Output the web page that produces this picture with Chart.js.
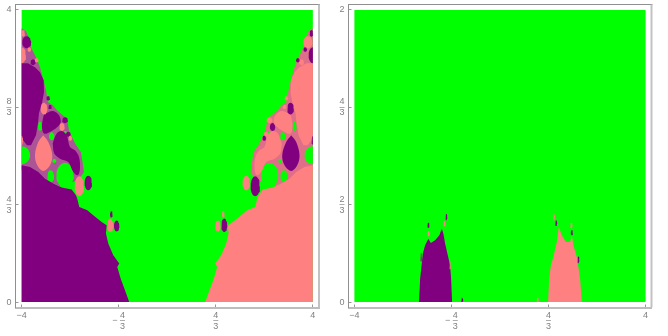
<!DOCTYPE html>
<html>
<head>
<meta charset="utf-8">
<style>
html,body{margin:0;padding:0;background:#fff;width:668px;height:336px;overflow:hidden}
canvas{position:absolute;top:0}
#a{left:0}
#b{left:334px}
</style>
<script src="https://cdn.jsdelivr.net/npm/chart.js@4"></script>
</head>
<body>
<canvas id="a" width="334" height="336"></canvas>
<canvas id="b" width="334" height="336"></canvas>
<script>
// ---- tick values and labels
const xTickValues = [-4, -4/3, 4/3, 4];
const xTickLabels = ['−4', ['   4', '− –', '   3'], ['4', '–', '3'], '4'];
const yTickValuesA = [0, 4/3, 8/3, 4];
const yTickLabelsA = ['0', ['4', '–', '3'], ['8', '–', '3'], '4'];
const yTickValuesB = [0, 2/3, 4/3, 2];
const yTickLabelsB = ['0', ['2', '–', '3'], ['4', '–', '3'], '2'];

// ---- region colours
const GREEN = '#00ff00', PURPLE = '#800080', SALMON = '#ff8080';
const DUST_L = '#ab5596', DUST_R = '#df6f88';

// ---- panel A: full plot region
const plotA = [[-4,0],[4,0],[4,4],[-4,4]];

// ---- panel A, left side: main regions [x, y]
const dustL = [[-4,3.749],[-3.881,3.708],[-3.798,3.612],[-3.743,3.489],[-3.606,3.352],[-3.496,3.215],[-3.414,3.064],[-3.332,2.9],[-3.276,2.736],[-3.139,2.695],[-3.029,2.626],[-2.837,2.544],[-2.755,2.516],[-2.7,2.352],[-2.535,2.174],[-2.37,2.051],[-2.315,1.873],[-2.288,1.777],[-2.453,1.667],[-2.947,1.585],[-4,1.804]];
const lowerL = [[-4,0],[-4,1.873],[-3.771,1.849],[-3.543,1.781],[-3.359,1.69],[-3.131,1.622],[-2.9,1.567],[-2.626,1.54],[-2.508,1.462],[-2.472,1.416],[-2.417,1.301],[-2.197,1.256],[-2.032,1.188],[-1.802,1.096],[-1.664,1.051],[-1.684,0.937],[-1.62,0.8],[-1.483,0.64],[-1.318,0.526],[-1.373,0.479],[-1.28,0.321],[-1.162,0.16],[-1.044,0]];
const lobe1L = [[-4,3.27],[-3.826,3.27],[-3.634,3.215],[-3.496,3.147],[-3.395,3.037],[-3.386,2.873],[-3.441,2.722],[-3.524,2.585],[-3.551,2.448],[-3.606,2.284],[-3.743,2.147],[-3.853,2.147],[-3.963,2.215],[-4,2.284]];
const lobe2L = [[-3.386,2.571],[-3.139,2.616],[-2.974,2.558],[-2.928,2.462],[-3.029,2.393],[-3.222,2.329],[-3.386,2.307],[-3.441,2.393],[-3.414,2.516]];
const lobe3L = [[-3.147,2.17],[-3.038,2.307],[-2.9,2.342],[-2.763,2.284],[-2.672,2.123],[-2.535,2.078],[-2.425,1.986],[-2.398,1.827],[-2.461,1.736],[-2.582,1.781],[-2.719,1.918],[-2.947,1.964],[-3.104,2.033]];
const eggL = [[-3.406,2.284],[-3.268,2.192],[-3.158,2.01],[-3.222,1.873],[-3.406,1.795],[-3.57,1.873],[-3.634,2.01],[-3.543,2.192]];

// ---- panel A, right side: main regions [x, y]
const dustR = [[4,3.749],[3.881,3.708],[3.798,3.612],[3.743,3.489],[3.606,3.352],[3.496,3.215],[3.414,3.064],[3.332,2.9],[3.276,2.736],[3.139,2.695],[3.029,2.626],[2.837,2.544],[2.755,2.516],[2.7,2.352],[2.535,2.174],[2.37,2.051],[2.315,1.873],[2.288,1.777],[2.453,1.667],[2.947,1.585],[4,1.804]];
const lowerR = [[4,0],[4,1.873],[3.771,1.849],[3.543,1.781],[3.359,1.69],[3.131,1.622],[2.9,1.567],[2.626,1.54],[2.508,1.462],[2.472,1.416],[2.417,1.301],[2.197,1.256],[2.032,1.188],[1.802,1.096],[1.664,1.051],[1.684,0.937],[1.62,0.8],[1.483,0.64],[1.318,0.526],[1.373,0.479],[1.28,0.321],[1.162,0.16],[1.044,0]];
const lobe1R = [[4,3.27],[3.826,3.27],[3.634,3.215],[3.496,3.147],[3.395,3.037],[3.386,2.873],[3.441,2.722],[3.524,2.585],[3.551,2.448],[3.606,2.284],[3.743,2.147],[3.853,2.147],[3.963,2.215],[4,2.284]];
const lobe2R = [[3.386,2.571],[3.139,2.616],[2.974,2.558],[2.928,2.462],[3.029,2.393],[3.222,2.329],[3.386,2.307],[3.441,2.393],[3.414,2.516]];
const lobe3R = [[3.147,2.17],[3.038,2.307],[2.9,2.342],[2.763,2.284],[2.672,2.123],[2.535,2.078],[2.425,1.986],[2.398,1.827],[2.461,1.736],[2.582,1.781],[2.719,1.918],[2.947,1.964],[3.104,2.033]];
const eggR = [[3.406,2.284],[3.268,2.192],[3.158,2.01],[3.222,1.873],[3.406,1.795],[3.57,1.873],[3.634,2.01],[3.543,2.192]];

// ---- panel A: small round islands [cx, cy, rx, ry]
const islandsGreenL = [[-4,2.01,0.233,0.123],[-2.81,1.736,0.242,0.171],[-3.203,1.722,0.096,0.082],[-3.496,2.407,0.055,0.062],[-3.175,2.27,0.074,0.055],[-3.104,1.932,0.055,0.027],[-2.81,2.321,0.046,0.023]];
const islandsGreenR = [[4,2.01,0.233,0.123],[2.81,1.736,0.242,0.171],[3.203,1.722,0.096,0.082],[3.496,2.407,0.055,0.062],[3.175,2.27,0.074,0.055],[3.104,1.932,0.055,0.027],[2.81,2.321,0.046,0.023]];
const islandsPurpleL = [[-3.862,3.558,0.124,0.082],[-3.689,3.284,0.07,0.04],[-2.17,1.63,0.102,0.1],[-1.39,1.041,0.074,0.075],[-1.538,1.201,0.036,0.045],[-3.272,2.79,0.05,0.03],[-3.222,2.671,0.05,0.028],[-2.719,2.297,0.065,0.035],[-2.81,2.49,0.08,0.04]];
const islandsSalmonR = [[3.862,3.558,0.124,0.082],[3.689,3.284,0.07,0.04],[2.17,1.63,0.102,0.1],[1.39,1.041,0.074,0.075],[1.538,1.201,0.036,0.045],[3.272,2.79,0.05,0.03],[3.222,2.671,0.05,0.028],[2.719,2.297,0.065,0.035],[2.81,2.49,0.08,0.04]];
const islandsSalmonL = [[-4,3.379,0.118,0.11],[-3.386,2.649,0.091,0.082],[-2.892,2.397,0.074,0.055],[-2.417,1.585,0.129,0.137],[-1.566,1.051,0.082,0.092],[-3.79,3.458,0.05,0.03],[-3.587,3.311,0.05,0.03],[-3.96,3.68,0.05,0.045],[-4,2.215,0.04,0.06],[-2.664,2.243,0.05,0.035]];
const islandsPurpleR = [[4,3.379,0.118,0.11],[3.386,2.649,0.091,0.082],[2.892,2.397,0.074,0.055],[2.417,1.585,0.129,0.137],[1.566,1.051,0.082,0.092],[3.79,3.458,0.05,0.03],[3.587,3.311,0.05,0.03],[3.96,3.68,0.05,0.045],[4,2.215,0.04,0.06],[2.664,2.243,0.05,0.035]];

// ---- panel B
const plotB = [[-4,0],[4,0],[4,2],[-4,2]];
const mountainL = [[-2.223,0],[-2.195,0.16],[-2.159,0.24],[-2.121,0.331],[-2.058,0.388],[-1.967,0.434],[-1.901,0.404],[-1.783,0.423],[-1.665,0.457],[-1.599,0.503],[-1.555,0.468],[-1.508,0.4],[-1.434,0.32],[-1.371,0.251],[-1.343,0.16],[-1.316,0]];
const mountainR = [[1.321,0],[1.349,0.149],[1.396,0.251],[1.467,0.308],[1.56,0.411],[1.615,0.514],[1.698,0.457],[1.808,0.411],[1.926,0.411],[1.973,0.457],[2.016,0.388],[2.11,0.308],[2.154,0.24],[2.201,0.16],[2.247,0]];
const tipsPurpleB = [[-1.967,0.525,0.03,0.018],[-1.473,0.582,0.025,0.023],[-1.041,0.01,0.03,0.02],[-2.168,0.308,0.02,0.03],[1.541,0.541,0.03,0.02],[1.973,0.475,0.03,0.018],[2.154,0.29,0.025,0.025]];
const tipsSalmonB = [[-1.96,0.468,0.03,0.02],[-1.527,0.537,0.03,0.02],[-1.37,0.25,0.02,0.025],[1.486,0.582,0.025,0.023],[1.96,0.525,0.03,0.02],[1.038,0.01,0.03,0.02]];

// ---- helpers
const poly = (pts, color, tension = 0) => ({
  data: pts.concat([pts[0]]).map(p => ({x: p[0], y: p[1]})),
  backgroundColor: color, tension
});
const oval = (c, color) => {
  const pts = [];
  for (let i = 0; i < 20; i++) {
    const a = i / 20 * 2 * Math.PI;
    const x = c[0] + c[2] * Math.cos(a);
    pts.push([Math.max(-4, Math.min(4, x)), Math.max(0, c[1] + c[3] * Math.sin(a))]);
  }
  return poly(pts, color);
};
const ovals = (list, color) => list.map(c => oval(c, color));
const SMOOTH = 0.35;

const layersA = [
  poly(plotA, GREEN),
  poly(dustL, DUST_L),
  poly(dustR, DUST_R),
  ...ovals(islandsGreenL, GREEN),
  ...ovals(islandsGreenR, GREEN),
  poly(lowerL, PURPLE),
  poly(lowerR, SALMON),
  poly(lobe1L, PURPLE), poly(lobe2L, PURPLE, SMOOTH), poly(lobe3L, PURPLE, SMOOTH),
  poly(lobe1R, SALMON), poly(lobe2R, SALMON, SMOOTH), poly(lobe3R, SALMON, SMOOTH),
  poly(eggL, SALMON, SMOOTH), poly(eggR, PURPLE, SMOOTH),
  ...ovals(islandsPurpleL, PURPLE),
  ...ovals(islandsSalmonR, SALMON),
  ...ovals(islandsSalmonL, SALMON),
  ...ovals(islandsPurpleR, PURPLE)
];
const layersB = [
  poly(plotB, GREEN),
  poly(mountainL, PURPLE),
  poly(mountainR, SALMON),
  ...ovals(tipsPurpleB, PURPLE),
  ...ovals(tipsSalmonB, SALMON)
];

// ---- frame: the top and right sides
const frame = {
  id: 'frame',
  afterDraw(c) {
    const {left, right, top, bottom} = c.chartArea, g = c.ctx;
    g.save();
    g.strokeStyle = '#8f8f8f'; g.lineWidth = 1;
    g.beginPath(); g.moveTo(left, top); g.lineTo(right + 1, top); g.stroke();
    g.strokeStyle = '#c2c2c2'; g.lineWidth = 2;
    g.beginPath(); g.moveTo(right, top); g.lineTo(right, bottom); g.stroke();
    g.restore();
  }
};

const tickFont = {family: '"Liberation Sans", Arial, sans-serif', size: 9, lineHeight: 0.62};
const TICK = '#808080';
const noPadding = s => { s.paddingTop = s.paddingBottom = s.paddingLeft = s.paddingRight = 0; };

function panel(id, layers, yMin, yMax, yVals, yLabels, frameLeft, frameRight, xLimit) {
  new Chart(document.getElementById(id), {
    type: 'scatter',
    data: {datasets: layers.map((l, i) => Object.assign({
      order: layers.length - i,
      showLine: true, fill: 'shape', borderWidth: 0, pointRadius: 0, pointHoverRadius: 0
    }, l))},
    options: {
      responsive: false, animation: false, events: [],
      layout: {autoPadding: false, padding: {left: 0, top: 4.5, right: 334 - frameRight, bottom: 0}},
      plugins: {legend: {display: false}, tooltip: {enabled: false}, title: {display: false}},
      scales: {
        x: {
          type: 'linear', min: -xLimit, max: xLimit,
          afterBuildTicks: s => { s.ticks = xTickValues.map(v => ({value: v})); },
          afterFit: s => { s.height = 336 - 307.5; noPadding(s); },
          grid: {drawOnChartArea: false, tickLength: -3, tickColor: '#999'},
          border: {color: '#bdbdbd', width: 2},
          ticks: {
            autoSkip: false, maxRotation: 0, minRotation: 0, padding: 8, color: TICK, font: tickFont,
            callback: (v, i) => xTickLabels[i]
          }
        },
        y: {
          type: 'linear', min: yMin, max: yMax,
          afterBuildTicks: s => { s.ticks = yVals.map(v => ({value: v})); },
          afterFit: s => { s.width = frameLeft; noPadding(s); },
          grid: {drawOnChartArea: false, tickLength: -3, tickColor: '#999'},
          border: {color: '#8f8f8f', width: 1},
          ticks: {
            autoSkip: false, crossAlign: 'center', padding: 7, color: TICK, font: tickFont,
            callback: (v, i) => yLabels[i]
          }
        }
      }
    },
    plugins: [frame]
  });
}

panel('a', layersA, -0.075, 4.075, yTickValuesA, yTickLabelsA, 15.5, 319, 4.169);
panel('b', layersB, -0.0375, 2.0375, yTickValuesB, yTickLabelsB, 14.5, 317.5, 4.162);
</script>
</body>
</html>
